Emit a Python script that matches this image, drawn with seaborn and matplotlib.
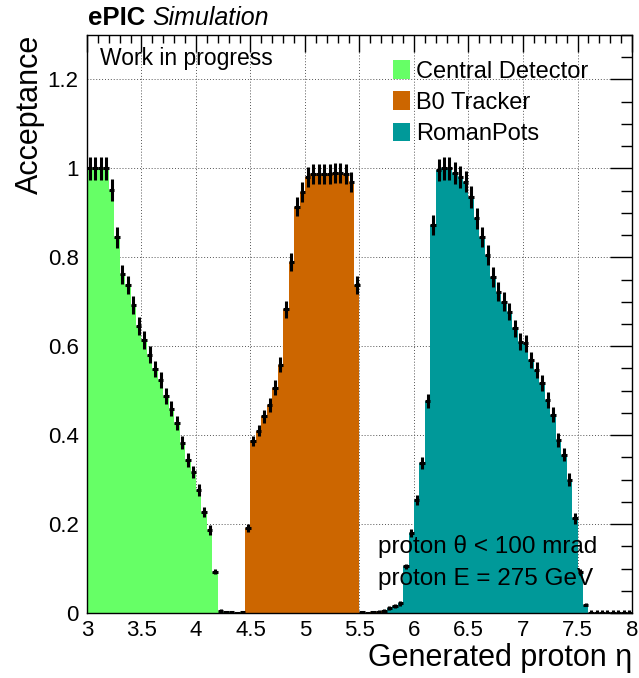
import numpy as np
import pandas as pd
import matplotlib
matplotlib.use("Agg")
import matplotlib.pyplot as plt
import seaborn as sns
from matplotlib.patches import Patch
from matplotlib.ticker import MultipleLocator, FuncFormatter

# ---------------- data ----------------
BIN_WIDTH = 0.05
ETA_MIN, ETA_MAX, N_BINS = 3.0, 8.0, 100

detectors = ["Central Detector", "B0 Tracker", "RomanPots"]
colors = ["#66ff66", "#cc6600", "#009999"]

central_start = 3.00
central_acc = [1.000, 1.000, 1.000, 1.000, 0.951, 0.845, 0.762, 0.738, 0.693, 0.646,
               0.614, 0.581, 0.549, 0.524, 0.488, 0.459, 0.427, 0.383, 0.344, 0.317,
               0.277, 0.227, 0.187, 0.093, 0.004, 0.002, 0.002, 0.001, 0.002]
central_err = [0.026, 0.026, 0.026, 0.026, 0.025, 0.024, 0.021, 0.021, 0.021, 0.020,
               0.020, 0.019, 0.018, 0.018, 0.017, 0.017, 0.016, 0.015, 0.015, 0.014,
               0.013, 0.012, 0.011, 0.006, 0.004, 0.003, 0.003, 0.002, 0.003]

b0_start = 4.45
b0_acc = [0.192, 0.387, 0.410, 0.442, 0.468, 0.507, 0.558, 0.683, 0.790, 0.914,
          0.947, 0.981, 0.987, 0.987, 0.987, 0.987, 0.990, 0.989, 0.987, 0.970,
          0.738, 0.002, 0.001, 0.002, 0.003, 0.004]
b0_err = [0.009, 0.012, 0.013, 0.014, 0.015, 0.016, 0.017, 0.019, 0.020, 0.021,
          0.022, 0.022, 0.022, 0.022, 0.022, 0.022, 0.022, 0.022, 0.022, 0.022,
          0.021, 0.003, 0.002, 0.003, 0.003, 0.004]

rp_start = 5.75
rp_acc = [0.011, 0.016, 0.022, 0.105, 0.180, 0.255, 0.337, 0.476, 0.873, 0.996,
          1.000, 1.000, 0.989, 0.981, 0.970, 0.936, 0.888, 0.846, 0.805, 0.756,
          0.723, 0.700, 0.678, 0.640, 0.610, 0.607, 0.569, 0.547, 0.517, 0.479,
          0.446, 0.389, 0.356, 0.300, 0.213, 0.093, 0.019, 0.0, 0.0, 0.0,
          0.0, 0.0, 0.0, 0.0, 0.0]
rp_err = [0.004, 0.005, 0.006, 0.006, 0.009, 0.011, 0.013, 0.016, 0.023, 0.025,
          0.025, 0.025, 0.025, 0.025, 0.024, 0.024, 0.024, 0.023, 0.022, 0.022,
          0.021, 0.021, 0.020, 0.020, 0.019, 0.019, 0.019, 0.018, 0.018, 0.017,
          0.017, 0.016, 0.015, 0.014, 0.012, 0.007, 0.004, 0.006, 0.006, 0.006,
          0.006, 0.006, 0.006, 0.006, 0.006]

series = [
    (detectors[0], central_start, central_acc, central_err, colors[0]),
    (detectors[1], b0_start, b0_acc, b0_err, colors[1]),
    (detectors[2], rp_start, rp_acc, rp_err, colors[2]),
]

# ---------------- style ----------------
sns.set_theme(style="white")
plt.rcParams["font.family"] = ["Liberation Sans", "DejaVu Sans"]
plt.rcParams["axes.edgecolor"] = "black"
plt.rcParams["axes.linewidth"] = 1.0
plt.rcParams["text.color"] = "black"
plt.rcParams["axes.labelcolor"] = "black"
plt.rcParams["xtick.color"] = "black"
plt.rcParams["ytick.color"] = "black"
plt.rcParams["xtick.labelcolor"] = "black"
plt.rcParams["ytick.labelcolor"] = "black"

fig = plt.figure(figsize=(6.39, 6.78), dpi=100)
ax = fig.add_axes([87 / 639, 1 - 613 / 678, 545 / 639, 578 / 678])

for name, start, acc, err, col in series:
    centers = start + BIN_WIDTH * (np.arange(len(acc)) + 0.5)
    df = pd.DataFrame({"eta": centers, "acc": acc})
    sns.histplot(data=df, x="eta", weights="acc", bins=N_BINS,
                 binrange=(ETA_MIN, ETA_MAX), element="step",
                 fill=True, color=col, alpha=1, linewidth=0, ax=ax, zorder=2)
    ax.errorbar(centers, acc, yerr=err, xerr=BIN_WIDTH / 2, fmt="none",
                ecolor="black", elinewidth=2.2, capsize=0, zorder=3)

ax.set_xlim(ETA_MIN, ETA_MAX)
ax.set_ylim(0, 1.3)

ax.xaxis.set_major_locator(MultipleLocator(0.5))
ax.xaxis.set_minor_locator(MultipleLocator(0.1))
ax.yaxis.set_major_locator(MultipleLocator(0.2))
ax.yaxis.set_minor_locator(MultipleLocator(0.05))
fmt = FuncFormatter(lambda v, p: f"{v:g}")
ax.xaxis.set_major_formatter(fmt)
ax.yaxis.set_major_formatter(fmt)

ax.tick_params(which="both", direction="in", top=True, right=True,
               color="black", labelcolor="black", width=1.0)
ax.tick_params(axis="x", which="major", length=12, labelsize=16, pad=5)
ax.tick_params(axis="x", which="minor", length=6)
ax.tick_params(axis="y", which="major", length=16, labelsize=16, pad=6)
ax.tick_params(axis="y", which="minor", length=8)

ax.grid(True, which="major", linestyle=(0, (1, 2)), color="#555555", linewidth=0.7)
ax.set_axisbelow(True)
for s in ax.spines.values():
    s.set_visible(True)
    s.set_color("black")
    s.set_linewidth(1.0)

ax.set_xlabel("Generated proton η", fontsize=22, loc="right", color="black")
ax.xaxis.set_label_coords(1.0, -0.052)
ax.set_ylabel("Acceptance", fontsize=22, loc="top", color="black")
ax.yaxis.set_label_coords(-0.078, 1.0)

# headers
fig.text(88 / 639, 1 - 18 / 678, "ePIC", fontsize=18.5, fontweight="bold",
         ha="left", va="center", color="black")
fig.text(152 / 639, 1 - 18 / 678, "Simulation", fontsize=18, fontstyle="italic",
         ha="left", va="center", color="black")
ax.text((100 - 87) / 545, (613 - 58) / 578, "Work in progress", fontsize=16.5,
        transform=ax.transAxes, ha="left", va="center", color="black")

ax.text((378 - 87) / 545, (613 - 547) / 578, "proton θ < 100 mrad", fontsize=17.5,
        transform=ax.transAxes, ha="left", va="center", zorder=5, color="black")
ax.text((378 - 87) / 545, (613 - 579) / 578, "proton E = 275 GeV", fontsize=17.5,
        transform=ax.transAxes, ha="left", va="center", zorder=5, color="black")

handles = [Patch(facecolor=c, edgecolor="none") for c in colors]
leg = ax.legend(handles, detectors, loc="upper left",
                bbox_to_anchor=((393 - 87) / 545, (613 - 60) / 578),
                frameon=False, fontsize=17, handlelength=0.72, handleheight=0.85,
                handletextpad=0.25, labelspacing=0.37, borderaxespad=0, borderpad=0)
for t in leg.get_texts():
    t.set_color("black")

fig.savefig("out.png", dpi=100)
